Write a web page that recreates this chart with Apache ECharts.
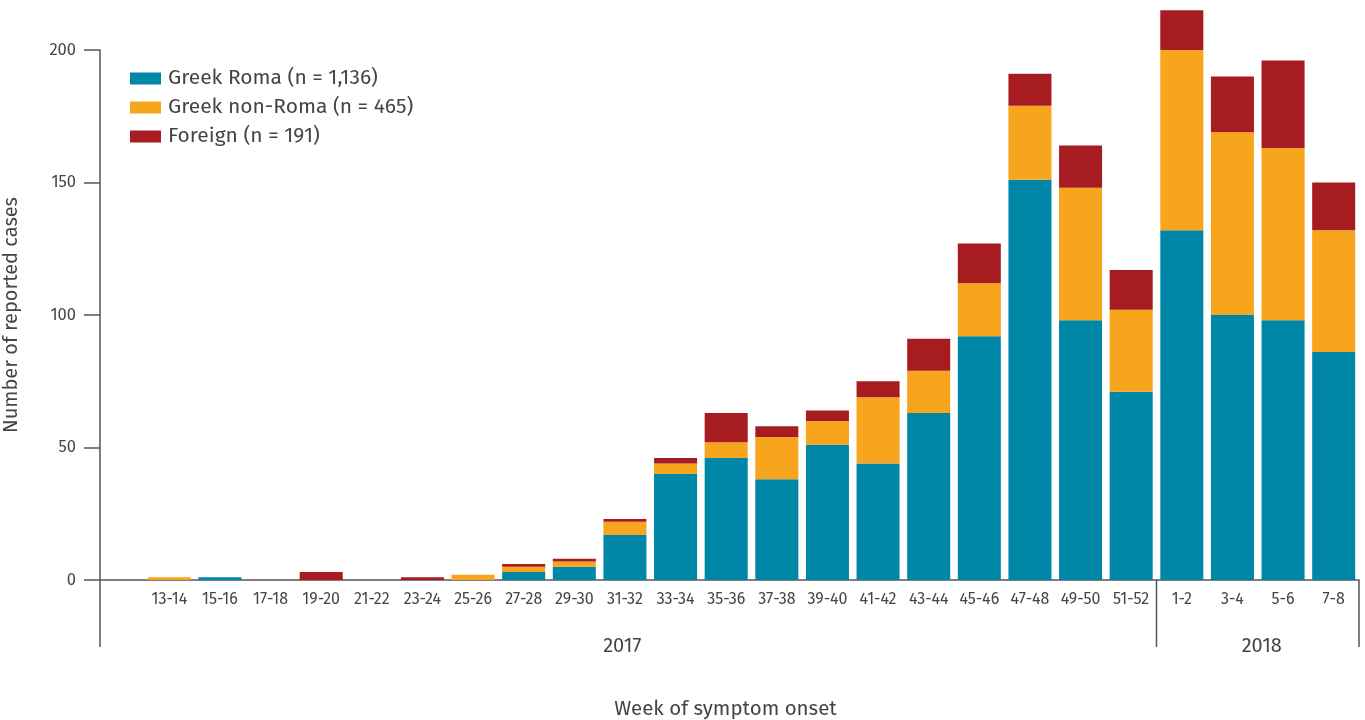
<!DOCTYPE html>
<html>
<head>
<meta charset="utf-8">
<script src="https://cdn.jsdelivr.net/npm/echarts@6/dist/echarts.min.js"></script>
<style>
html,body{margin:0;padding:0;background:#fff;}
#chart{width:1365px;height:720px;}
</style>
</head>
<body>
<div id="chart"></div>
<script>
var categories = ['13-14','15-16','17-18','19-20','21-22','23-24','25-26','27-28','29-30','31-32','33-34','35-36','37-38','39-40','41-42','43-44','45-46','47-48','49-50','51-52','1-2','3-4','5-6','7-8'];
var greekRoma    = [0,1,0,0,0,0,0,3,5,17,40,46,38,51,44,63,92,151,98,71,132,100,98,86];
var greekNonRoma = [1,0,0,0,0,0,2,2,2,5,4,6,16,9,25,16,20,28,50,31,68,69,65,46];
var foreign      = [0,0,0,3,0,1,0,1,1,1,2,11,4,4,6,12,15,12,16,15,15,21,33,18];
var seriesNames = ['Greek Roma (n = 1,136)','Greek non-Roma (n = 465)','Foreign (n = 191)'];
var yearLabels = ['2017','2018'];
var yearSplitIndex = 20;

var FONT = '"Fira Sans","Noto Sans","Open Sans",sans-serif';
var TXT = '#454545';
var AX = '#555555';
var colors = ['#0087a8','#f6a51d','#a61c21'];
var GL = 144, GR = 6, GT = 50, GB = 140;

var chart = echarts.init(document.getElementById('chart'));
var option = {
  animation:false,
  color: colors,
  grid:{left:GL,right:GR,top:GT,bottom:GB,containLabel:false,outerBoundsMode:'none'},
  legend:{
    orient:'vertical', left:125, top:63,
    itemWidth:31, itemHeight:12, itemGap:8,
    icon:'rect',
    textStyle:{fontFamily:FONT,fontSize:21,color:TXT,lineHeight:21,padding:[0,0,0,2]},
    data: seriesNames
  },
  xAxis:{
    type:'category', data:categories,
    axisLine:{lineStyle:{color:AX,width:1.5}},
    axisTick:{show:false},
    axisLabel:{fontFamily:FONT,fontSize:16,color:TXT,margin:12,interval:0}
  },
  yAxis:{
    type:'value', min:0, max:200, interval:50,
    offset: GL-100,
    name:'Number of reported cases', nameLocation:'middle', nameGap:79,
    nameTextStyle:{fontFamily:FONT,fontSize:20,color:TXT},
    axisLine:{show:true,lineStyle:{color:AX,width:1.5}},
    axisTick:{show:true,length:16,lineStyle:{color:AX,width:1.5}},
    axisLabel:{fontFamily:FONT,fontSize:16.5,color:TXT,margin:24},
    splitLine:{show:false}
  },
  series:[
    {name:seriesNames[0],type:'bar',stack:'a',data:greekRoma,barCategoryGap:'15%',clip:false},
    {name:seriesNames[1],type:'bar',stack:'a',data:greekNonRoma,barCategoryGap:'15%',clip:false},
    {name:seriesNames[2],type:'bar',stack:'a',data:foreign,barCategoryGap:'15%',clip:false}
  ]
};
chart.setOption(option);

var rect = chart.getModel().getComponent('grid').coordinateSystem.getRect();
var band = rect.width / categories.length;
var y0 = chart.convertToPixel({yAxisIndex:0}, 0);
var axisX = rect.x - (GL-100);
var splitX = rect.x + yearSplitIndex*band;
var rightX = rect.x + rect.width;
var lineBottom = y0 + 67;
var lineStyle = {stroke:AX, lineWidth:1.5};
chart.setOption({
  graphic:[
    {type:'line', shape:{x1:axisX,y1:y0,x2:rect.x,y2:y0}, style:lineStyle},
    {type:'line', shape:{x1:axisX,y1:y0,x2:axisX,y2:lineBottom}, style:lineStyle},
    {type:'line', shape:{x1:splitX,y1:y0,x2:splitX,y2:lineBottom}, style:lineStyle},
    {type:'line', shape:{x1:rightX,y1:y0,x2:rightX,y2:lineBottom}, style:lineStyle},
    {type:'text', x:(axisX+splitX)/2 - 6, y:y0+66, style:{text:yearLabels[0], fontFamily:FONT, fontSize:20, fill:TXT, textAlign:'center', textVerticalAlign:'middle'}},
    {type:'text', x:(splitX+rightX)/2 + 4, y:y0+66, style:{text:yearLabels[1], fontFamily:FONT, fontSize:20, fill:TXT, textAlign:'center', textVerticalAlign:'middle'}},
    {type:'text', x:(axisX+rightX)/2 - 4, y:709, style:{text:'Week of symptom onset', fontFamily:FONT, fontSize:20.5, fill:TXT, textAlign:'center', textVerticalAlign:'middle'}}
  ]
});
</script>
</body>
</html>
